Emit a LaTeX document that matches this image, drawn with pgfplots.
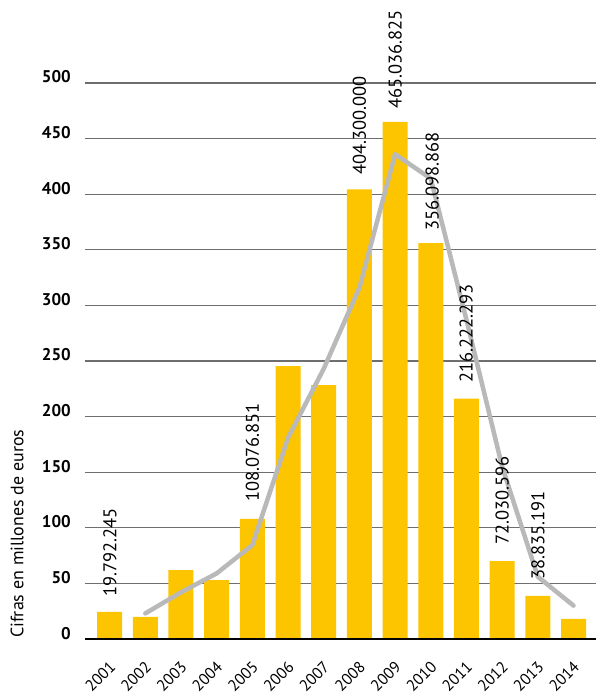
\documentclass[border=0pt]{standalone}
\usepackage{pgfplots}
\pgfplotsset{compat=1.18}
\usepackage{fontspec}
\setmainfont{PT Sans}

\definecolor{baryellow}{RGB}{253,197,0}
\definecolor{avggray}{RGB}{185,185,185}
\definecolor{gridgray}{RGB}{110,110,110}

\begin{document}
\begin{tikzpicture}
\begin{axis}[
scale only axis,
width=511bp, height=556bp,
xmin=2000.31, xmax=2014.63,
ymin=0, ymax=500,
axis line style={draw=none},
clip=false,
/pgf/number format/assume math mode=true,
ytick={0,50,100,150,200,250,300,350,400,450,500},
xtick={2001,2002,2003,2004,2005,2006,2007,2008,2009,2010,2011,2012,2013,2014},
xticklabels={2001,2002,2003,2004,2005,2006,2007,2008,2009,2010,2011,2012,2013,2014},
tick style={draw=none},
ymajorgrids,
major grid style={gridgray, line width=1.1bp},
yticklabel style={font=\fontsize{17}{17}\selectfont\bfseries, anchor=base east, inner sep=0pt, xshift=-14bp},
xticklabel style={font=\fontsize{16}{16}\selectfont, xshift=7bp, yshift=-29bp, rotate=45, anchor=base east, inner sep=0pt},
]
\addplot[ybar, bar width=25bp, fill=baryellow, draw=none] coordinates {
(2001,24.3) (2002,19.8) (2003,62) (2004,53) (2005,108.1) (2006,245.5) (2007,228.4)
(2008,404.3) (2009,465.0) (2010,356.1) (2011,216.2) (2012,70) (2013,38.8) (2014,18)
};
\addplot[sharp plot, avggray, line width=4.5bp, line cap=round, line join=round] coordinates {
(2002,23) (2003,42) (2004,59) (2005,84.5) (2006,181) (2007,243) (2008,316)
(2009,436) (2010,414) (2011,287) (2012,155) (2013,56) (2014,30)
};
\draw[black, line width=2.2bp] (rel axis cs:0,0) -- (rel axis cs:1,0);
\begin{scope}[every node/.style={rotate=90, anchor=west, inner sep=0pt, font=\fontsize{18.5}{18.5}\selectfont}]
\node at (axis cs:2001.01,37.8) {19.792.245};
\node at (axis cs:2005,123.2) {108.076.851};
\node at (axis cs:2008,417.3) {404.300.000};
\node at (axis cs:2009,476.6) {465.036.825};
\node at (axis cs:2010.04,366.9) {356.098.868};
\node at (axis cs:2010.99,230.2) {216.222.293};
\node at (axis cs:2012,84.5) {72.030.596};
\node at (axis cs:2013,53) {38.835.191};
\end{scope}
\end{axis}
\node[rotate=90, anchor=west, inner sep=0pt, font=\fontsize{18}{18}\selectfont] at (-68bp,1bp) {Cifras en millones de euros};
\pgfresetboundingbox
\path (-85bp,-57bp) rectangle (511bp,639bp);
\end{tikzpicture}
\end{document}
